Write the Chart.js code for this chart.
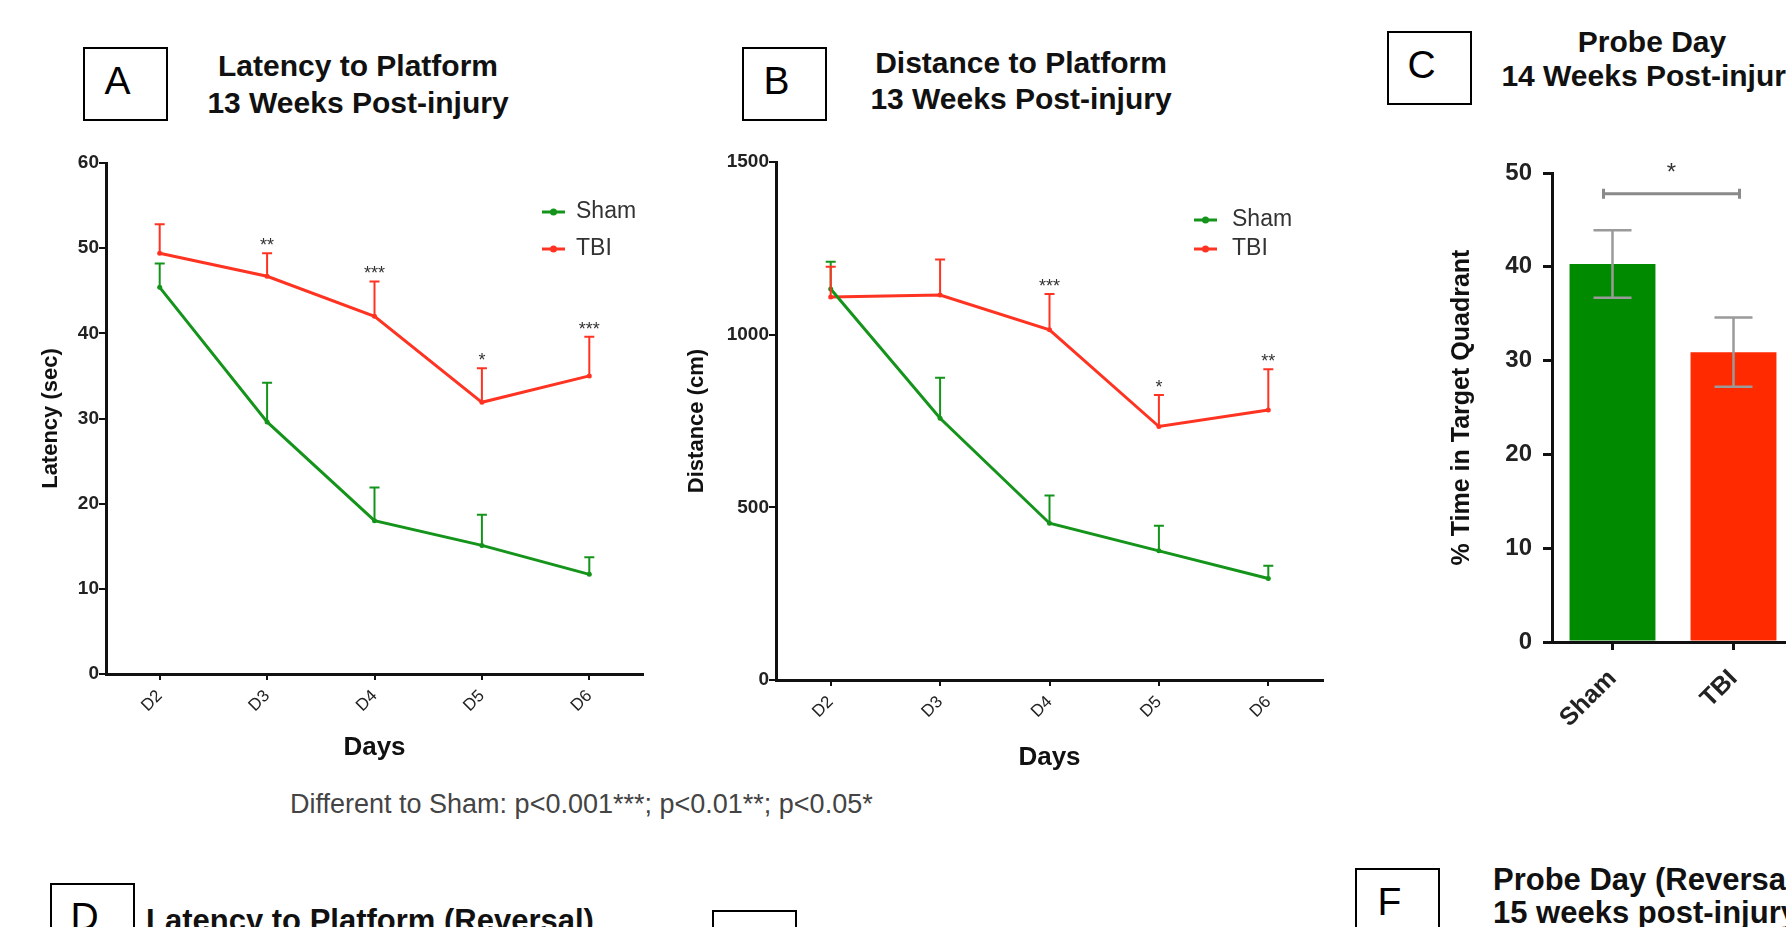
<!DOCTYPE html>
<html>
<head>
<meta charset="utf-8">
<title>Water maze: latency, distance and probe day</title>
<script src="https://cdn.jsdelivr.net/npm/chart.js@4.4.1/dist/chart.umd.min.js"></script>
<style>
  html, body { margin: 0; padding: 0; background: #fff; overflow: hidden; }
  body { position: relative; width: 1786px; height: 927px; font-family: "Liberation Sans", Arial, sans-serif; color: #111; }
  canvas { position: absolute; }
  .box { position: absolute; width: 85px; height: 74px; border: 2px solid #000; box-sizing: border-box;
         display: flex; align-items: center; justify-content: center; font-size: 39px; color: #000;
         padding: 0 16px 7px 0; }
  .title { position: absolute; font-weight: bold; font-size: 30px; white-space: nowrap; text-align: center; transform: translateX(-50%); }
  .note { position: absolute; font-size: 27px; color: #444; white-space: nowrap; }
</style>
</head>
<body>
<div class="box" style="left:83px;top:47px">A</div>
<div class="title" style="left:358px;top:47px;line-height:37px">Latency to Platform<br>13 Weeks Post-injury</div>
<div class="box" style="left:742px;top:47px">B</div>
<div class="title" style="left:1021px;top:45px;line-height:36px">Distance to Platform<br>13 Weeks Post-injury</div>
<div class="box" style="left:1387px;top:31px">C</div>
<div class="title" style="left:1652px;top:25px;line-height:34px">Probe Day<br>14 Weeks Post-injury</div>
<div class="note" style="left:290px;top:789px">Different to Sham: p&lt;0.001***; p&lt;0.01**; p&lt;0.05*</div>
<div class="box" style="left:50px;top:883px">D</div>
<div class="title" style="left:146px;top:903px;transform:none;text-align:left;line-height:36px;font-size:31px">Latency to Platform (Reversal)</div>
<div class="box" style="left:712px;top:910px">E</div>
<div class="box" style="left:1355px;top:868px">F</div>
<div class="title" style="left:1493px;top:863px;transform:none;text-align:left;line-height:33px;font-size:31px">Probe Day (Reversal)<br>15 weeks post-injury</div>

<canvas id="chartA" width="680" height="670" style="left:0;top:120px"></canvas>
<canvas id="chartB" width="700" height="680" style="left:660px;top:120px"></canvas>
<canvas id="chartC" width="400" height="640" style="left:1420px;top:120px"></canvas>

<script>
// --- data ---
const days = ['D2', 'D3', 'D4', 'D5', 'D6'];

const latencyTicks = [0, 10, 20, 30, 40, 50, 60];
const latencySham = [45.4, 29.6, 18.0, 15.1, 11.7];
const latencyShamSem = [2.8, 4.6, 3.9, 3.6, 2.0];
const latencyTbi = [49.4, 46.7, 42.0, 31.9, 35.0];
const latencyTbiSem = [3.4, 2.7, 4.1, 4.0, 4.6];
const latencyStars = ['', '**', '***', '*', '***'];

const distanceTicks = [0, 500, 1000, 1500];
const distanceSham = [1132, 758, 454, 374, 294];
const distanceShamSem = [79, 117, 80, 73, 37];
const distanceTbi = [1109, 1115, 1014, 734, 782];
const distanceTbiSem = [88, 103, 104, 91, 118];
const distanceStars = ['', '', '***', '*', '**'];

const groups = ['Sham', 'TBI'];
const probeTicks = [0, 10, 20, 30, 40, 50];
const probeMean = [40.3, 30.9];
const probeSem = [3.6, 3.7];
const probeStar = '*';
const probeBracket = 47.8;

const GREEN = '#14941a';
const RED = '#ff3322';
const BAR_GREEN = '#008a00';
const BAR_RED = '#ff2a00';

Chart.defaults.font.family = '"Liberation Sans", Arial, sans-serif';
Chart.defaults.color = '#222';

// SEM whiskers (+ significance stars) drawn from the scales
const semBars = {
  id: 'semBars',
  afterDatasetsDraw(chart, args, o) {
    const ctx = chart.ctx, ys = chart.scales.y;
    ctx.save();
    chart.data.datasets.forEach((ds, i) => {
      if (!ds.sem) return;
      const meta = chart.getDatasetMeta(i);
      meta.data.forEach((el, j) => {
        const v = ds.data[j], e = ds.sem[j];
        const x = el.x;
        const top = ys.getPixelForValue(v + e);
        const bottom = ds.semBoth ? ys.getPixelForValue(v - e) : ys.getPixelForValue(v);
        ctx.strokeStyle = ds.semColor || ds.borderColor;
        ctx.lineWidth = o.width || 2;
        ctx.beginPath();
        ctx.moveTo(x, bottom); ctx.lineTo(x, top);
        ctx.moveTo(x - o.cap, top); ctx.lineTo(x + o.cap, top);
        if (ds.semBoth) { ctx.moveTo(x - o.cap, bottom); ctx.lineTo(x + o.cap, bottom); }
        ctx.stroke();
        if (ds.stars && ds.stars[j]) {
          ctx.fillStyle = '#333';
          ctx.font = '18px "Liberation Sans", Arial, sans-serif';
          ctx.textAlign = 'center';
          ctx.textBaseline = 'alphabetic';
          ctx.fillText(ds.stars[j], x, top - 2);
        }
      });
    });
    ctx.restore();
  }
};

// small legend inside the plot, upper right
const sideLegend = {
  id: 'sideLegend',
  afterDraw(chart, args, o) {
    if (o.right == null) return;
    const { ctx, chartArea } = chart;
    ctx.save();
    ctx.font = '23px "Liberation Sans", Arial, sans-serif';
    ctx.textBaseline = 'middle';
    ctx.textAlign = 'left';
    chart.data.datasets.forEach((ds, i) => {
      const x = chartArea.right - o.right;
      const y = chartArea.top + o.top + i * o.gap;
      ctx.strokeStyle = ds.borderColor;
      ctx.lineWidth = 3;
      ctx.beginPath(); ctx.moveTo(x, y); ctx.lineTo(x + 23, y); ctx.stroke();
      ctx.fillStyle = ds.borderColor;
      ctx.beginPath(); ctx.arc(x + 11.5, y, 3.5, 0, Math.PI * 2); ctx.fill();
      ctx.fillStyle = '#333';
      ctx.fillText(ds.label, x + o.textGap, y);
    });
    ctx.restore();
  }
};

// significance bracket over the two bars
const bracket = {
  id: 'bracket',
  afterDatasetsDraw(chart, args, o) {
    if (o.value == null) return;
    const ctx = chart.ctx;
    const meta = chart.getDatasetMeta(0);
    const y = chart.scales.y.getPixelForValue(o.value);
    const x1 = meta.data[o.from].x - 9, x2 = meta.data[o.to].x + 6;
    ctx.save();
    ctx.strokeStyle = '#8a8a8a';
    ctx.lineWidth = 3;
    ctx.beginPath();
    ctx.moveTo(x1, y); ctx.lineTo(x2, y);
    ctx.moveTo(x1, y - 5); ctx.lineTo(x1, y + 5);
    ctx.moveTo(x2, y - 5); ctx.lineTo(x2, y + 5);
    ctx.stroke();
    ctx.fillStyle = '#333';
    ctx.font = '24px "Liberation Sans", Arial, sans-serif';
    ctx.textAlign = 'center';
    ctx.fillText(o.text, (x1 + x2) / 2, y - 14);
    ctx.restore();
  }
};

function lineChart(id, cfg) {
  return new Chart(document.getElementById(id), {
    type: 'line',
    data: {
      labels: days,
      datasets: [
        { label: 'Sham', data: cfg.sham, sem: cfg.shamSem, borderColor: GREEN, backgroundColor: GREEN },
        { label: 'TBI', data: cfg.tbi, sem: cfg.tbiSem, stars: cfg.stars, borderColor: RED, backgroundColor: RED }
      ]
    },
    options: {
      responsive: false,
      animation: false,
      layout: { padding: cfg.padding },
      elements: {
        line: { borderWidth: 3, tension: 0 },
        point: { radius: 2.5, borderWidth: 0 }
      },
      plugins: {
        legend: { display: false },
        tooltip: { enabled: false },
        sideLegend: cfg.legend,
        semBars: { cap: 5, width: 2 }
      },
      scales: {
        x: {
          offset: true,
          grid: { drawOnChartArea: false, tickLength: 6, color: '#111', lineWidth: 2, offset: false },
          border: { color: '#111', width: 3 },
          ticks: { autoSkip: false, minRotation: 45, maxRotation: 45, padding: 6, font: { size: 17 }, color: '#222' },
          title: { display: true, text: 'Days', font: { size: 26, weight: 'bold' }, color: '#111', padding: { top: 0, bottom: 7 } },
          afterFit: s => { s.height = cfg.xHeight; }
        },
        y: {
          min: 0,
          max: cfg.ticks[cfg.ticks.length - 1],
          afterBuildTicks: s => { s.ticks = cfg.ticks.map(v => ({ value: v })); },
          grid: { drawOnChartArea: false, tickLength: 7, color: '#111', lineWidth: 2 },
          border: { color: '#111', width: 3 },
          ticks: { padding: 0, font: { size: 19, weight: 'bold' }, color: '#222', callback: v => String(v) },
          title: { display: true, text: cfg.yTitle, font: { size: 22, weight: 'bold' }, color: '#111', padding: { top: cfg.yTitlePad } },
          afterFit: s => { s.width = cfg.yWidth; }
        }
      }
    },
    plugins: [semBars, sideLegend]
  });
}

lineChart('chartA', {
  sham: latencySham, shamSem: latencyShamSem,
  tbi: latencyTbi, tbiSem: latencyTbiSem, stars: latencyStars,
  ticks: latencyTicks, yTitle: 'Latency (sec)', yTitlePad: 0,
  padding: { left: 38, top: 43, right: 37, bottom: 20 },
  yWidth: 68, xHeight: 96,
  legend: { right: 101, top: 49, gap: 37, textGap: 34 }
});

lineChart('chartB', {
  sham: distanceSham, shamSem: distanceShamSem,
  tbi: distanceTbi, tbiSem: distanceTbiSem, stars: distanceStars,
  ticks: distanceTicks, yTitle: 'Distance (cm)', yTitlePad: 4,
  padding: { left: 20, top: 42, right: 37, bottom: 20 },
  yWidth: 96, xHeight: 100,
  legend: { right: 129, top: 58, gap: 29, textGap: 38 }
});

new Chart(document.getElementById('chartC'), {
  type: 'bar',
  data: {
    labels: groups,
    datasets: [{
      label: '% Time in Target Quadrant',
      data: probeMean,
      sem: probeSem,
      semBoth: true,
      semColor: '#9a9a9a',
      backgroundColor: [BAR_GREEN, BAR_RED],
      borderWidth: 0,
      barPercentage: 0.71,
      categoryPercentage: 1
    }]
  },
  options: {
    responsive: false,
    animation: false,
    layout: { padding: { left: 20, top: 53, right: 26, bottom: 10 } },
    plugins: {
      legend: { display: false },
      tooltip: { enabled: false },
      semBars: { cap: 19, width: 2.5 },
      bracket: { from: 0, to: 1, value: probeBracket, text: probeStar }
    },
    scales: {
      x: {
        grid: { drawOnChartArea: false, tickLength: 8, color: '#111', lineWidth: 3, offset: false },
        border: { color: '#111', width: 3 },
        ticks: { minRotation: 45, maxRotation: 45, padding: 14, font: { size: 25, weight: 'bold' }, color: '#222' },
        afterFit: s => { s.height = 108; }
      },
      y: {
        min: 0,
        max: 50,
        afterBuildTicks: s => { s.ticks = probeTicks.map(v => ({ value: v })); },
        grid: { drawOnChartArea: false, tickLength: 9, color: '#111', lineWidth: 3 },
        border: { color: '#111', width: 3 },
        ticks: { padding: 11, font: { size: 24, weight: 'bold' }, color: '#222' },
        title: { display: true, text: '% Time in Target Quadrant', font: { size: 25, weight: 'bold' }, color: '#111', padding: { top: 7 } },
        afterFit: s => { s.width = 112; }
      }
    }
  },
  plugins: [semBars, bracket]
});
</script>
</body>
</html>
